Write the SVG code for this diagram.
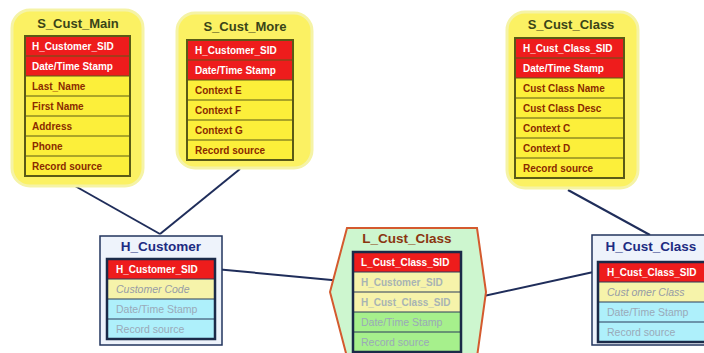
<svg xmlns="http://www.w3.org/2000/svg" width="704" height="353" viewBox="0 0 704 353">
  <style>
    text { font-family: "Liberation Sans", Arial, sans-serif; }
    .sat { fill: #fbf163; stroke: #f5f3a6; stroke-width: 3; }
    .sat-title { font-size: 13px; font-weight: bold; fill: #3a4418; text-anchor: middle; }
    .hub-title { font-size: 13.5px; font-weight: bold; fill: #1d2b82; text-anchor: middle; }
    .lnk-title { font-size: 13.5px; font-weight: bold; fill: #8a3510; text-anchor: middle; }
    .hub-box { fill: #eef3fb; stroke: #22345e; stroke-width: 1.5; }
    .lnk-box { fill: #cdf6cf; stroke: #d45a2e; stroke-width: 2; }
    .key { fill: #ee1c1c; }
    .sat-row { fill: #fcef3a; }
    .pale { fill: #f6f3aa; }
    .cyan { fill: #aef0fb; }
    .green { fill: #a6f08c; }
    .sep-s { stroke: #5a5a16; stroke-width: 1; }
    .sep-h { stroke: #2a3a5a; stroke-width: 1; }
    .frame-s { fill: none; stroke: #5a5a16; stroke-width: 2; }
    .frame-h { fill: none; stroke: #1b2a48; stroke-width: 2.5; }
    .t-key { font-size: 10px; font-weight: bold; fill: #ffffff; }
    .t-sat { font-size: 10px; font-weight: bold; fill: #8a2a00; }
    .t-dim { font-size: 10.5px; fill: #9aa9b8; }
    .t-dim-b { font-size: 10px; font-weight: bold; fill: #a8b4b4; }
    .t-it { font-size: 10.5px; font-style: italic; fill: #959ba6; }
    .conn { stroke: #1f2d5a; stroke-width: 2; fill: none; }
  </style>

  <!-- connectors -->
  <g id="connectors">
    <line class="conn" x1="75" y1="186" x2="160" y2="234"/>
    <line class="conn" x1="240" y1="169" x2="160" y2="234"/>
    <line class="conn" x1="568" y1="190" x2="650" y2="235"/>
    <line class="conn" x1="215" y1="269" x2="353" y2="282"/>
    <line class="conn" x1="461" y1="301" x2="598" y2="271"/>
  </g>

  <!-- satellite: customer main -->
  <g id="S_Cust_Main">
    <rect class="sat" x="12" y="10" width="131" height="176" rx="18"/>
    <text class="sat-title" x="78" y="27.5">S_Cust_Main</text>
    <rect class="key" x="25" y="36" width="105" height="40"/>
    <rect class="sat-row" x="25" y="76" width="105" height="100"/>
    <g class="sep-s">
      <line x1="25" y1="56" x2="130" y2="56"/>
      <line x1="25" y1="76" x2="130" y2="76"/>
      <line x1="25" y1="96" x2="130" y2="96"/>
      <line x1="25" y1="116" x2="130" y2="116"/>
      <line x1="25" y1="136" x2="130" y2="136"/>
      <line x1="25" y1="156" x2="130" y2="156"/>
    </g>
    <rect class="frame-s" x="25" y="36" width="105" height="140"/>
    <text class="t-key" x="32" y="49.5">H_Customer_SID</text>
    <text class="t-key" x="32" y="69.5">Date/Time Stamp</text>
    <text class="t-sat" x="32" y="89.5">Last_Name</text>
    <text class="t-sat" x="32" y="109.5">First Name</text>
    <text class="t-sat" x="32" y="129.5">Address</text>
    <text class="t-sat" x="32" y="149.5">Phone</text>
    <text class="t-sat" x="32" y="169.5">Record source</text>
  </g>

  <!-- satellite: customer extra context -->
  <g id="S_Cust_More">
    <rect class="sat" x="177" y="13" width="135" height="155" rx="18"/>
    <text class="sat-title" x="245" y="31">S_Cust_More</text>
    <rect class="key" x="187" y="40" width="106" height="40"/>
    <rect class="sat-row" x="187" y="80" width="106" height="80"/>
    <g class="sep-s">
      <line x1="187" y1="60" x2="293" y2="60"/>
      <line x1="187" y1="80" x2="293" y2="80"/>
      <line x1="187" y1="100" x2="293" y2="100"/>
      <line x1="187" y1="120" x2="293" y2="120"/>
      <line x1="187" y1="140" x2="293" y2="140"/>
    </g>
    <rect class="frame-s" x="187" y="40" width="106" height="120"/>
    <text class="t-key" x="195" y="53.5">H_Customer_SID</text>
    <text class="t-key" x="195" y="73.5">Date/Time Stamp</text>
    <text class="t-sat" x="195" y="93.5">Context E</text>
    <text class="t-sat" x="195" y="113.5">Context F</text>
    <text class="t-sat" x="195" y="133.5">Context G</text>
    <text class="t-sat" x="195" y="153.5">Record source</text>
  </g>

  <!-- satellite: customer class -->
  <g id="S_Cust_Class">
    <rect class="sat" x="507" y="12" width="131" height="176" rx="18"/>
    <text class="sat-title" x="571" y="29">S_Cust_Class</text>
    <rect class="key" x="515" y="38" width="109" height="40"/>
    <rect class="sat-row" x="515" y="78" width="109" height="100"/>
    <g class="sep-s">
      <line x1="515" y1="58" x2="624" y2="58"/>
      <line x1="515" y1="78" x2="624" y2="78"/>
      <line x1="515" y1="98" x2="624" y2="98"/>
      <line x1="515" y1="118" x2="624" y2="118"/>
      <line x1="515" y1="138" x2="624" y2="138"/>
      <line x1="515" y1="158" x2="624" y2="158"/>
    </g>
    <rect class="frame-s" x="515" y="38" width="109" height="140"/>
    <text class="t-key" x="523" y="51.5">H_Cust_Class_SID</text>
    <text class="t-key" x="523" y="71.5">Date/Time Stamp</text>
    <text class="t-sat" x="523" y="91.5">Cust Class Name</text>
    <text class="t-sat" x="523" y="111.5">Cust Class Desc</text>
    <text class="t-sat" x="523" y="131.5">Context C</text>
    <text class="t-sat" x="523" y="151.5">Context D</text>
    <text class="t-sat" x="523" y="171.5">Record source</text>
  </g>

  <!-- hub: customer -->
  <g id="H_Customer">
    <rect class="hub-box" x="100" y="236" width="122" height="109"/>
    <text class="hub-title" x="161" y="251">H_Customer</text>
    <rect class="key" x="107" y="259" width="108" height="20"/>
    <rect class="pale" x="107" y="279" width="108" height="20"/>
    <rect class="cyan" x="107" y="299" width="108" height="40"/>
    <g class="sep-h">
      <line x1="107" y1="279" x2="215" y2="279"/>
      <line x1="107" y1="299" x2="215" y2="299"/>
      <line x1="107" y1="319" x2="215" y2="319"/>
    </g>
    <rect class="frame-h" x="107" y="259" width="108" height="80"/>
    <text class="t-key" x="116" y="272.5">H_Customer_SID</text>
    <text class="t-it" x="116" y="292.5">Customer Code</text>
    <text class="t-dim" x="116" y="312.5">Date/Time Stamp</text>
    <text class="t-dim" x="116" y="332.5">Record source</text>
  </g>

  <!-- link: customer to class -->
  <g id="L_Cust_Class">
    <polygon class="lnk-box" points="347,228 477,228 486,292 477,357 347,357 330,292"/>
    <text class="lnk-title" x="407" y="243">L_Cust_Class</text>
    <rect class="key" x="353" y="252" width="108" height="20"/>
    <rect class="pale" x="353" y="272" width="108" height="40"/>
    <rect class="green" x="353" y="312" width="108" height="40"/>
    <g class="sep-h">
      <line x1="353" y1="272" x2="461" y2="272"/>
      <line x1="353" y1="292" x2="461" y2="292"/>
      <line x1="353" y1="312" x2="461" y2="312"/>
      <line x1="353" y1="332" x2="461" y2="332"/>
    </g>
    <rect class="frame-h" x="353" y="252" width="108" height="100"/>
    <text class="t-key" x="361" y="265.5">L_Cust_Class_SID</text>
    <text class="t-dim-b" x="361" y="285.5">H_Customer_SID</text>
    <text class="t-dim-b" x="361" y="305.5">H_Cust_Class_SID</text>
    <text class="t-dim" x="361" y="325.5">Date/Time Stamp</text>
    <text class="t-dim" x="361" y="345.5">Record source</text>
  </g>

  <!-- hub: customer class -->
  <g id="H_Cust_Class">
    <rect class="hub-box" x="592" y="235" width="130" height="110"/>
    <text class="hub-title" x="651" y="251">H_Cust_Class</text>
    <rect class="key" x="598" y="262" width="120" height="20"/>
    <rect class="pale" x="598" y="282" width="120" height="20"/>
    <rect class="cyan" x="598" y="302" width="120" height="40"/>
    <g class="sep-h">
      <line x1="598" y1="282" x2="718" y2="282"/>
      <line x1="598" y1="302" x2="718" y2="302"/>
      <line x1="598" y1="322" x2="718" y2="322"/>
    </g>
    <rect class="frame-h" x="598" y="262" width="120" height="80"/>
    <text class="t-key" x="607" y="275.5">H_Cust_Class_SID</text>
    <text class="t-it" x="607" y="295.5">Cust omer Class</text>
    <text class="t-dim" x="607" y="315.5">Date/Time Stamp</text>
    <text class="t-dim" x="607" y="335.5">Record source</text>
  </g>
</svg>
